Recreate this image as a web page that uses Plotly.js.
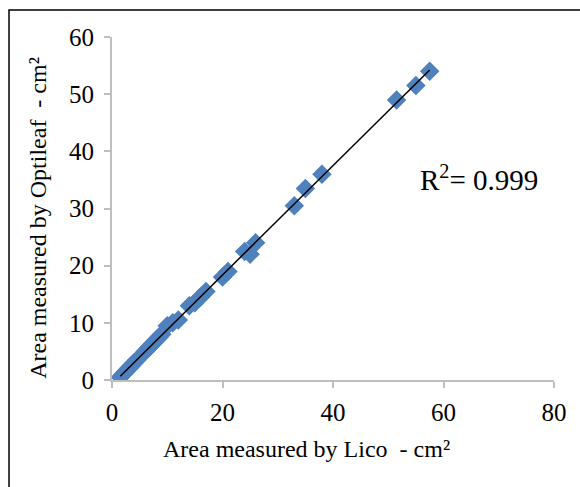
<!DOCTYPE html>
<html>
<head>
<meta charset="utf-8">
<script src="https://cdn.plot.ly/plotly-3.0.1.min.js"></script>
<style>html,body{margin:0;padding:0;background:#fff;}#chart{width:580px;height:487px;}</style>
</head>
<body>
<div id="chart"></div>
<script>
var licoArea = [1.5, 2, 2.5, 3, 3.5, 4, 4.5, 6, 6.5, 7, 7.5, 8, 8.5, 9, 10, 11, 12, 14, 15, 16, 17, 20, 21, 24, 25, 26, 33, 35, 38, 51.5, 55, 57.5];
var optileafArea = [0.5, 1, 1.5, 2, 2.5, 3, 3.5, 5, 5.5, 6, 6.5, 7, 7.5, 8, 9.5, 10, 10.5, 13, 13.5, 14.5, 15.5, 18, 19, 22.5, 22, 24, 30.5, 33.5, 36, 49, 51.5, 54];
var xTicks = [0, 20, 40, 60, 80];
var yTicks = [0, 10, 20, 30, 40, 50, 60];
var xTitle = 'Area measured by Lico  - cm²';
var yTitle = 'Area measured by Optileaf  - cm²';
var r2Label = "R<sup>2</sup>= 0.999";

// least-squares trend line across the data range
var n = licoArea.length, sx = 0, sy = 0, sxx = 0, sxy = 0;
for (var i = 0; i < n; i++) { sx += licoArea[i]; sy += optileafArea[i]; sxx += licoArea[i]*licoArea[i]; sxy += licoArea[i]*optileafArea[i]; }
var slope = (n*sxy - sx*sy) / (n*sxx - sx*sx);
var intercept = (sy - slope*sx) / n;
var xMin = Math.min.apply(null, licoArea), xMax = Math.max.apply(null, licoArea);
var trendX = [xMin, xMax];
var trendY = trendX.map(function(v){ return slope*v + intercept; });

var font = "Liberation Serif";
var data = [
  {x: licoArea, y: optileafArea, mode: 'markers', type: 'scatter',
   marker: {symbol: 'diamond', size: 15, color: '#4F81BD'}, hoverinfo: 'x+y'},
  {x: trendX, y: trendY, mode: 'lines', type: 'scatter',
   line: {color: '#000000', width: 1.5}}
];
var layout = {
  width: 580, height: 487,
  margin: {l: 112, r: 26, t: 37, b: 107},
  paper_bgcolor: '#fff', plot_bgcolor: '#fff',
  showlegend: false,
  font: {family: font, color: '#000', size: 25},
  xaxis: {range: [0, 80], tickvals: xTicks, ticklabelstandoff: 3,
    showgrid: false, zeroline: false, showline: true, linecolor: '#BFBFBF', linewidth: 2,
    ticks: 'outside', ticklen: 6, tickcolor: '#BFBFBF', tickwidth: 2,
    tickfont: {family: font, size: 25, color: '#000'}},
  yaxis: {range: [0, 60], tickvals: yTicks, ticklabelstandoff: 5,
    showgrid: false, zeroline: false, showline: true, linecolor: '#BFBFBF', linewidth: 2,
    ticks: 'outside', ticklen: 6, tickcolor: '#BFBFBF', tickwidth: 2,
    tickfont: {family: font, size: 25, color: '#000'}},
  annotations: [
    {x: 55.3, y: 35.4, xref: 'x', yref: 'y', text: r2Label, showarrow: false, xanchor: 'left', yanchor: 'middle',
     font: {family: font, size: 29, color: '#000'}},
    {x: 0.44, y: -0.2, xref: 'paper', yref: 'paper', text: xTitle, showarrow: false, xanchor: 'center', yanchor: 'middle',
     font: {family: font, size: 24, color: '#000'}},
    {x: -0.168, y: 0.472, xref: 'paper', yref: 'paper', text: yTitle, showarrow: false, textangle: -90, xanchor: 'center', yanchor: 'middle',
     font: {family: font, size: 24, color: '#000'}}
  ],
  shapes: [{type: 'rect', xref: 'paper', yref: 'paper', x0: -0.233, x1: 1.2, y0: -0.5, y1: 1.0787,
    line: {color: '#000', width: 1.5}, fillcolor: 'rgba(0,0,0,0)', layer: 'below'}]
};
Plotly.newPlot('chart', data, layout, {displayModeBar: false, staticPlot: true});
</script>
</body>
</html>
